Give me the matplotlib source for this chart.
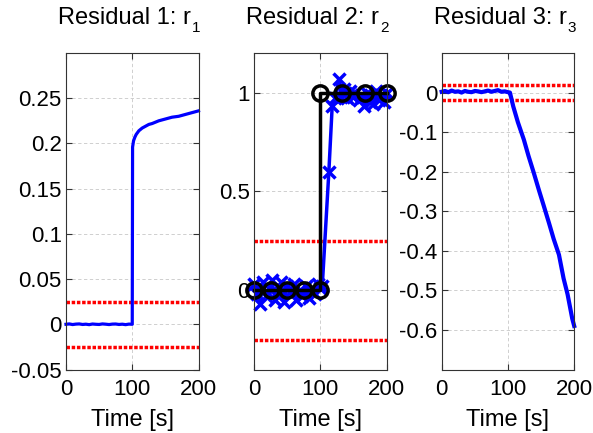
import matplotlib
matplotlib.use("Agg")
import matplotlib.pyplot as plt

plt.rcParams['font.family'] = ['Liberation Sans', 'DejaVu Sans']

# ---- data ----
title_main = ["Residual 1: r", "Residual 2: r", "Residual 3: r"]
title_sub = ["1", "2", "3"]
xlabel = "Time [s]"

r1_t = [0, 5, 10, 15, 20, 25, 30, 35, 40, 45, 50, 55, 60, 65, 70, 75, 80, 85, 90, 95, 100,
        100.5, 102, 104, 106, 108, 110, 115, 120, 125, 130, 140, 150, 160, 170, 180, 190, 200]
r1_v = [0.000, 0.0004, -0.0003, 0.0002, 0.0004, -0.0002, 0.0001, -0.0004, 0.0003, 0.0000,
        -0.0002, 0.0004, 0.0001, -0.0003, 0.0002, 0.0003, -0.0002, 0.0001, -0.0004, 0.0002,
        0.000,
        0.196, 0.203, 0.207, 0.210, 0.212, 0.214, 0.217, 0.219, 0.221, 0.222, 0.225, 0.227,
        0.229, 0.230, 0.232, 0.234, 0.236]
r1_thr = [0.025, -0.025]

r2_t = [0, 4, 9, 13, 18, 23, 27, 32, 37, 41, 46, 50, 55, 60, 64, 69, 73, 78, 83, 87, 92, 96,
        100, 103, 113, 118, 123, 128, 132, 136, 140, 145, 149, 153, 158, 162, 166, 171, 175,
        179, 184, 188, 192, 196, 200]
r2_v = [0.03, -0.02, -0.07, 0.04, -0.03, 0.01, 0.05, -0.05, -0.02, 0.04, -0.06, 0.02, -0.01,
        0.03, -0.05, 0.00, -0.03, 0.02, -0.04, 0.01, -0.02, 0.03, 0.01, 0.02, 0.60, 0.93, 0.97,
        1.07, 0.98, 1.02, 0.97, 1.01, 0.98, 1.00, 0.96, 0.99, 0.93, 1.00, 0.95, 0.94, 1.01,
        0.96, 0.99, 0.95, 1.00]
r2_ref_t = [0, 25, 50, 75, 100, 100, 133, 167, 200]
r2_ref_v = [0, 0, 0, 0, 0, 1, 1, 1, 1]
r2_thr = [0.25, -0.25]

r3_t = [0, 5, 10, 15, 20, 25, 30, 35, 40, 45, 50, 55, 60, 65, 70, 75, 80, 85, 90, 95, 100,
        103, 108, 115, 124, 131, 139, 147, 154, 162, 169, 177, 184, 190, 197, 200]
r3_v = [0.002, 0.004, 0.001, 0.005, 0.002, 0.003, 0.000, 0.004, 0.002, 0.001, 0.004, 0.003,
        0.001, 0.003, 0.005, 0.002, 0.004, 0.006, 0.002, 0.003, 0.001,
        0.000, -0.035, -0.075, -0.119, -0.160, -0.203, -0.248, -0.286, -0.330, -0.370,
        -0.410, -0.470, -0.510, -0.571, -0.590]
r3_thr = [0.02, -0.02]

ylims = [(-0.05, 0.3), (-0.4, 1.2), (-0.7, 0.1)]
yticks = [[-0.05, 0, 0.05, 0.1, 0.15, 0.2, 0.25], [0, 0.5, 1],
          [-0.6, -0.5, -0.4, -0.3, -0.2, -0.1, 0]]
ytick_labels = [["-0.05", "0", "0.05", "0.1", "0.15", "0.2", "0.25"], ["0", "0.5", "1"],
                ["-0.6", "-0.5", "-0.4", "-0.3", "-0.2", "-0.1", "0"]]
xticks = [0, 100, 200]

# ---- figure ----
W, H = 593, 433
fig = plt.figure(figsize=(W / 100, H / 100), dpi=100)
lefts = [66, 254, 441.7]
width = 132.5
top, bottom = 53, 369.5
axes = [fig.add_axes([l / W, 1 - bottom / H, width / W, (bottom - top) / H]) for l in lefts]

blue = (0, 0, 1)
red = (1, 0, 0)
dotted = (0, (1, 0.5))

for i, ax in enumerate(axes):
    ax.set_xlim(0, 200)
    ax.set_ylim(*ylims[i])
    ax.set_xticks(xticks)
    ax.set_xticklabels([str(x) for x in xticks])
    ax.set_yticks(yticks[i])
    ax.set_yticklabels(ytick_labels[i])
    ax.tick_params(direction='in', length=4, width=0.8, top=True, right=True,
                   labelsize=16, color='#333333')
    ax.tick_params(axis='x', pad=7)
    ax.tick_params(axis='y', pad=3)
    ax.grid(True, color='#c8c8c8', linestyle=(0, (4, 3)), linewidth=0.6)
    ax.set_axisbelow(True)
    for s in ax.spines.values():
        s.set_color('#333333')
        s.set_linewidth(0.8)
    t = ax.set_title(title_main[i], fontsize=17, pad=21, x=0.5 - 7.5 / width)
    ax.annotate(title_sub[i], xy=(1, 0), xycoords=t, xytext=(0.5, -2.2),
                textcoords='offset points', fontsize=11, ha='left', va='baseline')
    ax.set_xlabel(xlabel, fontsize=17, labelpad=6)

# panel 1
ax = axes[0]
for th in r1_thr:
    ax.axhline(th, color=red, linestyle=dotted, linewidth=2.5)
ax.plot(r1_t, r1_v, color=blue, linewidth=2.3)

# panel 2
ax = axes[1]
for th in r2_thr:
    ax.axhline(th, color=red, linestyle=dotted, linewidth=2.5)
ax.plot(r2_t, r2_v, color=blue, linewidth=2.5, marker='x', markersize=8, markeredgewidth=2.5)
ax.plot(r2_ref_t, r2_ref_v, color='black', linewidth=2.5, marker='o', markersize=11,
        markerfacecolor='none', markeredgewidth=2.5)

# panel 3
ax = axes[2]
for th in r3_thr:
    ax.axhline(th, color=red, linestyle=dotted, linewidth=2.5)
ax.plot(r3_t, r3_v, color=blue, linewidth=3)

for ax in axes:
    for ln in ax.lines:
        ln.set_clip_on(False)

fig.savefig("out.png", dpi=100)
